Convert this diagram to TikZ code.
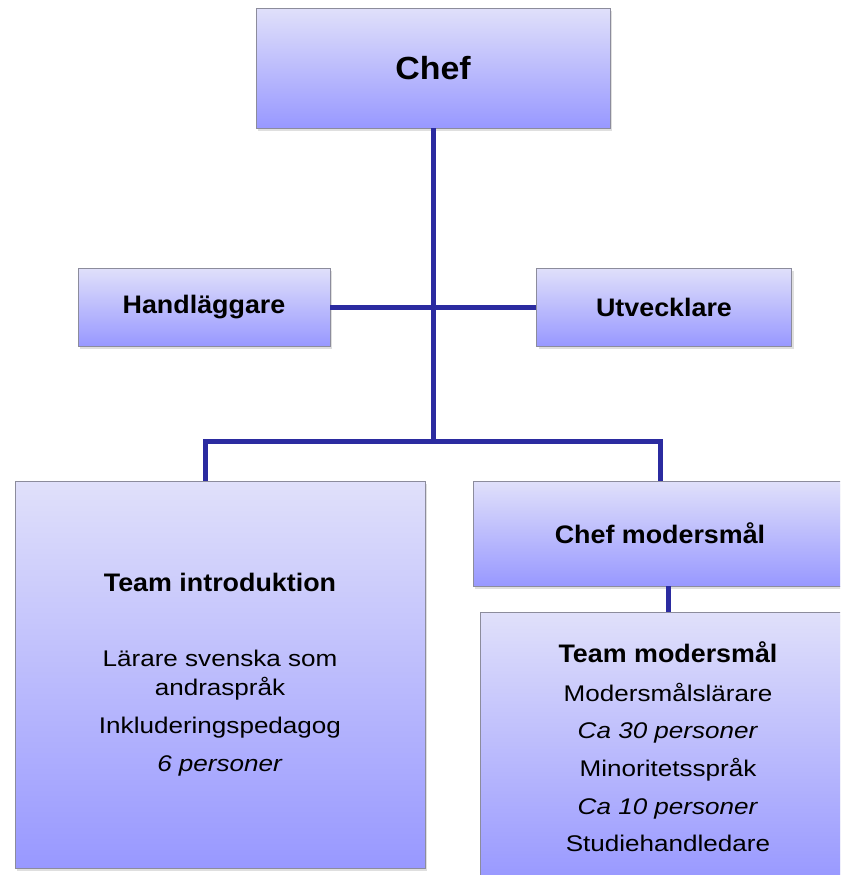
\documentclass[tikz,border=0pt]{standalone}
\usepackage{fontspec}
\setmainfont{Liberation Sans}[FakeStretch=1.15, BoldFeatures={FakeStretch=1.06}]
\usetikzlibrary{shadows,calc}

\definecolor{boxtop}{HTML}{E0E0FA}
\definecolor{boxbottom}{HTML}{9898FF}
\definecolor{boxedge}{HTML}{8C8C9C}
\definecolor{linkblue}{HTML}{2B2BA0}

\tikzset{
  orgbox/.style={draw=boxedge, line width=0.6pt, top color=boxtop, bottom color=boxbottom,
    inner sep=0pt, align=center, drop shadow={shadow xshift=1.5pt, shadow yshift=-2.5pt, opacity=0.25},
    font=\fontsize{17}{21.75}\selectfont},
  titlefont/.style={font=\bfseries\fontsize{19}{21.75}\selectfont},
  link/.style={draw=linkblue, line width=3.75pt}
}

\begin{document}
\begin{tikzpicture}[x=0.75pt,y=-0.75pt]

\useasboundingbox (0,0) rectangle (840,875);
\clip (0,0) rectangle (840,875);

% Top level
\node[orgbox, minimum width=265.5pt, minimum height=90pt, font=\bfseries\fontsize{24}{28}\selectfont] (chef) at (433,68) {Chef};

% Staff
\node[orgbox, titlefont, minimum width=189pt, minimum height=58.5pt] (hand) at (204,307) {Handläggare};
\node[orgbox, titlefont, minimum width=191.25pt, minimum height=58.5pt] (utv) at (664,307) {Utvecklare};

% Teams
\node[orgbox, minimum width=307.5pt, minimum height=290.25pt] (intro) at (220,674.5)
  {{\bfseries\fontsize{19}{21.75}\selectfont Team introduktion}\\[34.5pt]
   Lärare svenska som\\andraspråk\\[6.75pt]
   Inkluderingspedagog\\[6.75pt]
   \textit{6 personer}};
\node[orgbox, titlefont, minimum width=280.5pt, minimum height=78.75pt] (chefmod) at (660,533.5) {Chef modersmål};
\node[orgbox, minimum width=282pt, minimum height=202.5pt] (teammod) at (668,747)
  {{\bfseries\fontsize{19}{21.75}\selectfont Team modersmål}\\[7pt]
   Modersmålslärare\\[6.5pt]
   \textit{Ca 30 personer}\\[6.5pt]
   Minoritetsspråk\\[6.5pt]
   \textit{Ca 10 personer}\\[6.5pt]
   Studiehandledare};

% Connectors
\coordinate (split) at (chef.south |- 0,441);
\coordinate (left) at (205,441);
\coordinate (right) at (chefmod.north |- split);
\path[link] (hand.east) -- (utv.west);
\path[link] (chef.south) -- (split);
\path[link] (left |- intro.north) -- (left) -- (right) -- (chefmod.north);
\path[link] (teammod.north) -- (teammod.north |- chefmod.south);

\end{tikzpicture}
\end{document}
